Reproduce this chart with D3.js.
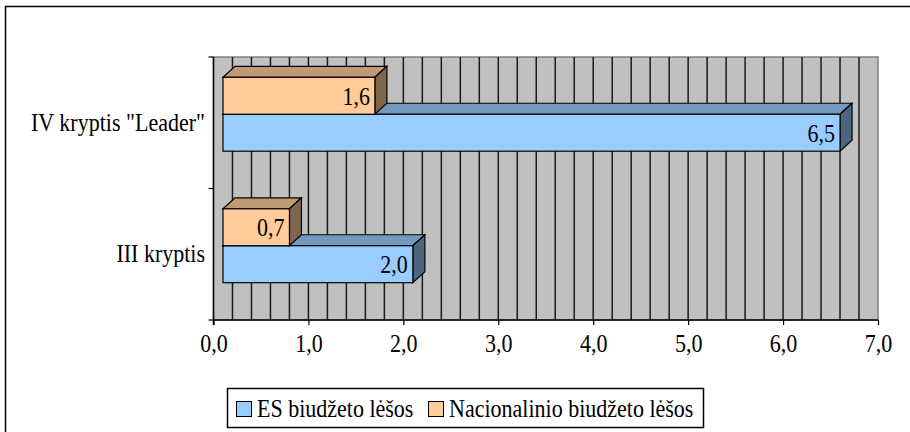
<!DOCTYPE html>
<html lang="lt">
<head>
<meta charset="utf-8">
<title>ES ir nacionalinio biudžeto lėšos</title>
<script src="https://d3js.org/d3.v7.min.js"></script>
<style>
  body { margin: 0; background: #fff; }
  text { font-family: "Liberation Serif", "Times New Roman", serif; fill: #000; }
</style>
</head>
<body>
<script>
// data
var categories = ['IV kryptis "Leader"', "III kryptis"];
var seriesNames = ["ES biudžeto lėšos", "Nacionalinio biudžeto lėšos"];
var esValues = [6.5, 2.0];
var nacValues = [1.6, 0.7];
var tickValues = [0, 1, 2, 3, 4, 5, 6, 7];

var width = 910, height = 432;
var fontSize = 25;
var squeezeBy = 0.88;   // the original text is narrow and tall

// 3d look
var front = { dx: 9.5, dy: -8.5 };   // bar front face shift off the wall
var depth = { dx: 12, dy: -11 };     // bar depth
var colors = {
  es:  { front: "#99ccff", top: "#7399bf", side: "#4d6680" },
  nac: { front: "#ffcc99", top: "#bf9973", side: "#80664d" }
};

function squeeze(sel) {
  sel.each(function() {
    var w = this.getComputedTextLength();
    d3.select(this)
      .attr("textLength", w * squeezeBy)
      .attr("lengthAdjust", "spacingAndGlyphs");
  });
}

var svg = d3.select("body").append("svg")
  .attr("width", width)
  .attr("height", height);

// chart border
svg.append("rect")
  .attr("x", 5.5).attr("y", 6.5)
  .attr("width", 940).attr("height", 450)
  .attr("fill", "#fff")
  .attr("stroke", "#000")
  .attr("stroke-width", 1.5);

var x = d3.scaleLinear().domain([0, 7]).range([213.5, 878]);
var y = d3.scaleBand().domain(categories).range([57, 320]);
var ySeries = d3.scaleBand().domain(["nac", "es"])
  .range([0, y.bandwidth()])
  .paddingOuter(0.78);

// back wall
svg.append("rect")
  .attr("x", x(0)).attr("y", 57)
  .attr("width", x(7) - x(0)).attr("height", 320 - 57)
  .attr("fill", "#c0c0c0")
  .attr("stroke", "#808080")
  .attr("stroke-width", 1.5);

// gridlines every 0.2
svg.append("g").selectAll("line")
  .data(d3.range(1, 35).map(function(i) { return i * 0.2; }))
  .enter().append("line")
  .attr("x1", function(d) { return x(d); })
  .attr("x2", function(d) { return x(d); })
  .attr("y1", 57).attr("y2", 320)
  .attr("stroke", "#1a1a1a")
  .attr("stroke-width", 1.5);

// bars
var bars = [];
categories.forEach(function(c, i) {
  bars.push({ cat: c, key: "es", value: esValues[i] });
  bars.push({ cat: c, key: "nac", value: nacValues[i] });
});

function pts(a) { return a.map(function(p) { return p.join(","); }).join(" "); }

var bar = svg.append("g").selectAll("g")
  .data(bars)
  .enter().append("g");

bar.each(function(d) {
  var g = d3.select(this);
  var x0 = x(0) + front.dx, x1 = x(d.value) + front.dx;
  var yT = y(d.cat) + ySeries(d.key) + front.dy;
  var yB = yT + ySeries.bandwidth();
  var c = colors[d.key];
  g.append("polygon")
    .attr("points", pts([[x0, yT], [x0 + depth.dx, yT + depth.dy], [x1 + depth.dx, yT + depth.dy], [x1, yT]]))
    .attr("fill", c.top).attr("stroke", "#000").attr("stroke-width", 1.2);
  g.append("polygon")
    .attr("points", pts([[x1, yT], [x1 + depth.dx, yT + depth.dy], [x1 + depth.dx, yB + depth.dy], [x1, yB]]))
    .attr("fill", c.side).attr("stroke", "#000").attr("stroke-width", 1.2);
  g.append("rect")
    .attr("x", x0).attr("y", yT)
    .attr("width", x1 - x0).attr("height", yB - yT)
    .attr("fill", c.front).attr("stroke", "#000").attr("stroke-width", 1.2);
  g.append("text")
    .attr("x", x1 - 5)
    .attr("y", (yT + yB) / 2 + 9)
    .attr("text-anchor", "end")
    .attr("font-size", fontSize)
    .text(d3.format(".1f")(d.value).replace(".", ","))
    .call(squeeze);
});

// axes
var xAxis = svg.append("g")
  .attr("transform", "translate(0,320)")
  .call(d3.axisBottom(x).tickValues(tickValues).tickSize(5)
    .tickFormat(function(d) { return d3.format(".1f")(d).replace(".", ","); }));
xAxis.select(".domain").attr("stroke", "#000").attr("stroke-width", 1.5)
  .attr("d", "M" + x(0) + ",0H" + x(7));
xAxis.selectAll(".tick line").attr("stroke", "#000").attr("stroke-width", 1.2);
xAxis.selectAll(".tick text")
  .attr("font-size", fontSize)
  .attr("fill", "#000")
  .attr("y", 14).attr("dy", "0.71em")
  .call(squeeze);

// left axis line + boundary ticks
svg.append("line")
  .attr("x1", x(0)).attr("x2", x(0))
  .attr("y1", 57).attr("y2", 325)
  .attr("stroke", "#000").attr("stroke-width", 1.5);
svg.append("g").selectAll("line")
  .data([57, y(categories[1]), 320])
  .enter().append("line")
  .attr("x1", x(0) - 5).attr("x2", x(0))
  .attr("y1", function(d) { return d; }).attr("y2", function(d) { return d; })
  .attr("stroke", "#000").attr("stroke-width", 1.2);

svg.append("g").selectAll("text")
  .data(categories)
  .enter().append("text")
  .attr("x", 205)
  .attr("y", function(d) { return y(d) + y.bandwidth() / 2; })
  .attr("dy", "0.32em")
  .attr("text-anchor", "end")
  .attr("font-size", fontSize)
  .text(function(d) { return d; })
  .call(squeeze);

// legend
var legend = svg.append("g");
legend.append("rect")
  .attr("x", 227.5).attr("y", 388.5)
  .attr("width", 476).attr("height", 39)
  .attr("fill", "#fff").attr("stroke", "#000").attr("stroke-width", 1.5);

var legendItems = [
  { name: seriesNames[0], color: colors.es.front, x: 236 },
  { name: seriesNames[1], color: colors.nac.front, x: 428 }
];
var li = legend.selectAll(".item")
  .data(legendItems)
  .enter().append("g")
  .attr("class", "item");
li.append("rect")
  .attr("x", function(d) { return d.x + 0.5; })
  .attr("y", 401.5)
  .attr("width", 15).attr("height", 15)
  .attr("fill", function(d) { return d.color; })
  .attr("stroke", "#000").attr("stroke-width", 1);
li.append("text")
  .attr("x", function(d) { return d.x + 21; })
  .attr("y", 417)
  .attr("font-size", fontSize)
  .text(function(d) { return d.name; })
  .call(squeeze);
</script>
</body>
</html>
